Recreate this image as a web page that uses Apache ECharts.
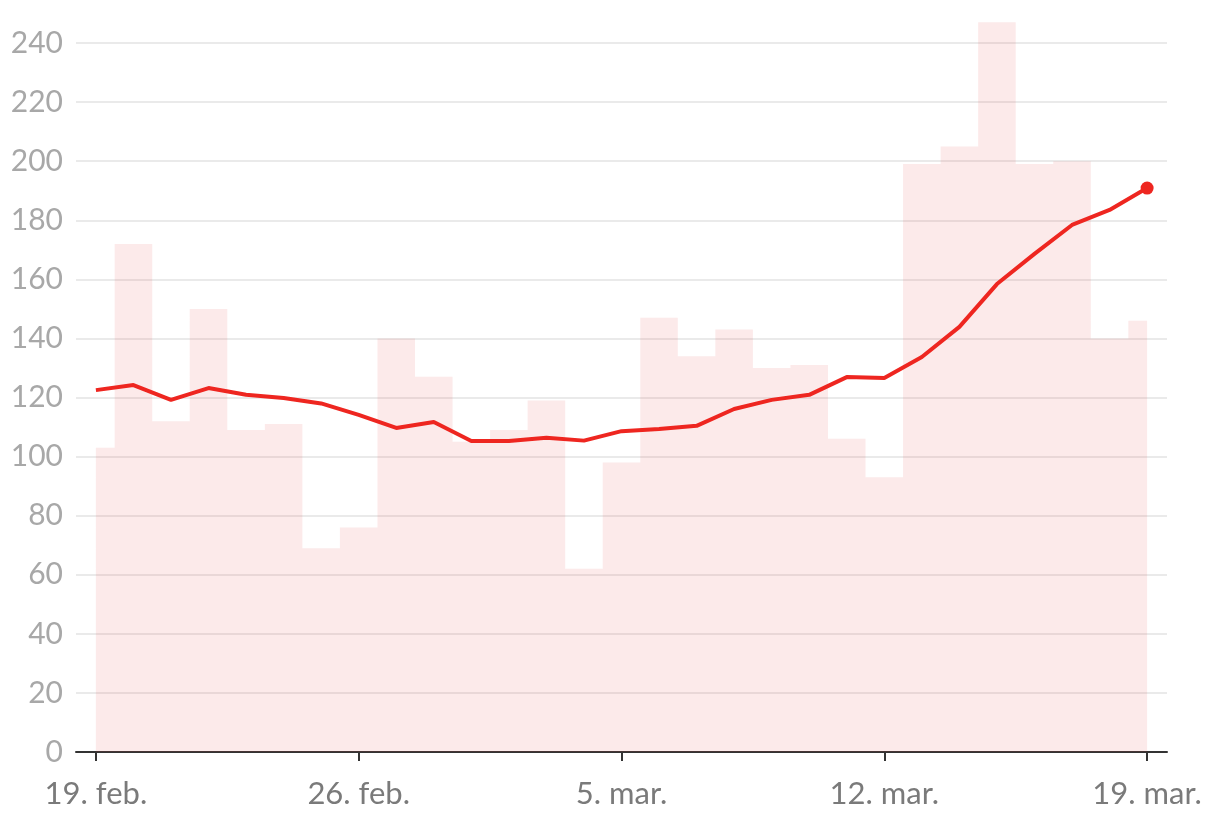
<!DOCTYPE html>
<html>
<head>
<meta charset="utf-8">
<script src="https://cdn.jsdelivr.net/npm/echarts@6/dist/echarts.min.js"></script>
<style>
  html, body { margin: 0; padding: 0; background: #fff; }
  #chart { width: 1220px; height: 818px; }
</style>
</head>
<body>
<div id="chart"></div>
<script>
// daily counts, 19. feb. -> 19. mar. (day index 0..28)
const counts = [103, 172, 112, 150, 109, 111, 69, 76, 140, 127, 105, 109, 119, 62, 98,
  147, 134, 143, 130, 131, 106, 93, 199, 205, 247, 199, 200, 140, 146];
// 7-day average line
const avg7 = [122.5, 124.2, 119.2, 123.2, 120.9, 119.8, 118.0, 114.1, 109.7, 111.7, 105.3,
  105.3, 106.4, 105.4, 108.6, 109.3, 110.4, 116.1, 119.2, 120.9, 126.9, 126.6, 133.7,
  143.9, 158.4, 168.6, 178.4, 183.5, 190.9];
const tickDays = [0, 7, 14, 21, 28];
const tickLabels = ["19. feb.", "26. feb.", "5. mar.", "12. mar.", "19. mar."];

const chart = echarts.init(document.getElementById("chart"));

const lastIdx = avg7.length - 1;
const lineData = avg7.map((v, i) =>
  i === lastIdx
    ? { value: [i, v], symbol: "circle", symbolSize: 13 }
    : [i, v]
);

chart.setOption({
  animation: false,
  grid: { left: 76, right: 53, top: 43, bottom: 66 },
  xAxis: {
    type: "value",
    min: -0.53,
    max: 28.53,
    splitLine: { show: false },
    axisLine: { show: true, lineStyle: { color: "#333", width: 2 } },
    axisTick: {
      show: true,
      customValues: tickDays,
      length: 9,
      lineStyle: { color: "#333", width: 2 }
    },
    axisLabel: {
      customValues: tickDays,
      formatter: v => tickLabels[tickDays.indexOf(Math.round(v))] || "",
      color: "#7a7a7a",
      fontFamily: "Lato",
      fontSize: 31,
      margin: 26
    }
  },
  yAxis: {
    type: "value",
    min: 0,
    max: 240,
    interval: 20,
    axisLine: { show: false },
    axisTick: { show: false },
    splitLine: { lineStyle: { color: "#e3e3e3", width: 1.5 } },
    axisLabel: {
      color: "#a8a8a8",
      fontFamily: "Lato",
      fontSize: 30,
      margin: 13
    }
  },
  series: [
    {
      type: "line",
      step: "middle",
      clip: false,
      data: counts.map((v, i) => [i, v]),
      symbol: "none",
      lineStyle: { width: 0, opacity: 0 },
      areaStyle: { color: "rgba(225, 60, 60, 0.11)", opacity: 1 },
      z: 1
    },
    {
      type: "line",
      data: lineData,
      symbol: "none",
      showSymbol: true,
      lineStyle: { color: "#ee2620", width: 4 },
      itemStyle: { color: "#ee2620" },
      z: 3
    }
  ]
});
</script>
</body>
</html>
